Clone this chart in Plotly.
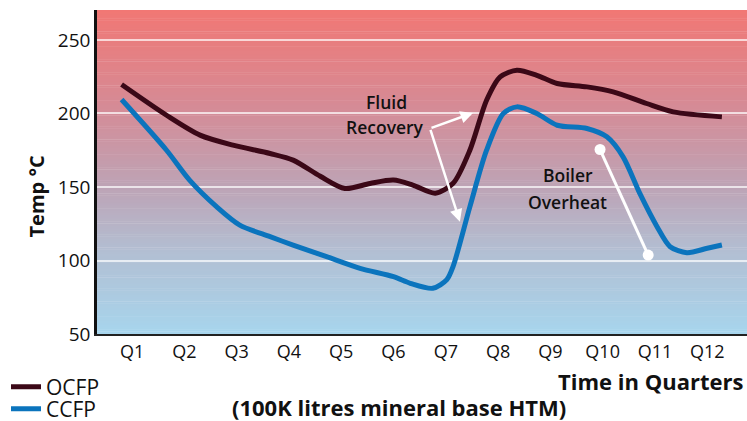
import plotly.graph_objects as go

# ---- data (x in quarters, Q1 = 1) ----
quarters = ["Q1", "Q2", "Q3", "Q4", "Q5", "Q6", "Q7", "Q8", "Q9", "Q10", "Q11", "Q12"]
quarter_pos = list(range(1, 13))

ocfp_q = [0.8, 1.66, 2.3, 2.93, 3.64, 4.08, 4.6, 5.07, 5.55, 6.0, 6.37, 6.8,
          7.14, 7.46, 7.78, 8.04, 8.36, 8.74, 9.13, 9.7, 10.2, 10.84, 11.35, 12.28]
ocfp_temp = [219.7, 198.8, 185.3, 178.5, 172.8, 168.3, 157.3, 149, 152.4, 154.7, 151.3, 145.8,
             152.5, 175, 209, 224.9, 229.4, 226, 220.4, 218.1, 214.7, 206.8, 201.1, 197.7]

ccfp_q = [0.8, 1.66, 2.1, 2.62, 3.06, 3.64, 4.08, 4.72, 5.36, 6.0, 6.32, 6.75,
          7.02, 7.14, 7.46, 7.78, 8.1, 8.36, 8.74, 9.13, 9.7, 10.08, 10.39, 10.71,
          11.04, 11.29, 11.61, 12.0, 12.28]
ccfp_temp = [209.5, 175, 154.7, 136.5, 124.1, 116.2, 110.5, 102.6, 94.7, 89, 84.5, 81.1,
             87, 96, 136.5, 175, 200, 204.5, 200, 192, 189.8, 184.1, 170.5, 145.6,
             123, 109.4, 105.3, 108.3, 110.5]

boiler_q = [9.95, 10.87]
boiler_temp = [175.5, 103.7]

y_range = [50, 270.4]
x_range = [0.33, 12.76]

# ---- background gradient (bottom -> top) ----
grad_stops = [(0.0, (167, 213, 237)), (0.25, (178, 191, 211)), (0.45, (189, 164, 182)),
              (0.7, (213, 139, 150)), (1.0, (241, 119, 116))]


def grad_color(t):
    for (t0, c0), (t1, c1) in zip(grad_stops[:-1], grad_stops[1:]):
        if t0 <= t <= t1:
            f = (t - t0) / (t1 - t0)
            c = [round(a + (b - a) * f) for a, b in zip(c0, c1)]
            return "rgb(%d,%d,%d)" % tuple(c)
    return "rgb(%d,%d,%d)" % grad_stops[-1][1]


shapes = []
n_bands = 150
for i in range(n_bands):
    y0 = y_range[0] + (y_range[1] - y_range[0]) * i / n_bands
    y1 = y_range[0] + (y_range[1] - y_range[0]) * (i + 1) / n_bands
    shapes.append(dict(type="rect", xref="paper", yref="y", x0=0, x1=1, y0=y0, y1=y1 + 0.3,
                       fillcolor=grad_color((i + 0.5) / n_bands), line=dict(width=0),
                       layer="below"))

FONT = "Open Sans"
W, H = 747, 421
L, T = 97, 10
PW, PH = W - L, 324
B = H - T - PH


def px_to_paper(px, py):
    return (px - L) / PW, (T + PH - py) / PH


fig = go.Figure()
fig.add_trace(go.Scatter(x=ocfp_q, y=ocfp_temp, name="OCFP", mode="lines", legend="legend",
                         line=dict(color="#3b0817", width=5, shape="spline", smoothing=0.8)))
fig.add_trace(go.Scatter(x=ccfp_q, y=ccfp_temp, name="CCFP", mode="lines", legend="legend2",
                         line=dict(color="#0b74bd", width=5, shape="spline", smoothing=0.8)))
fig.add_trace(go.Scatter(x=boiler_q, y=boiler_temp, mode="lines+markers", showlegend=False,
                         line=dict(color="white", width=3),
                         marker=dict(color="white", size=11), hoverinfo="skip"))

tx, ty = px_to_paper(20, 197)
qx, qy = px_to_paper(745, 381)
hx, hy = px_to_paper(399, 407)
l1x, l1y = px_to_paper(6, 387)
l2x, l2y = px_to_paper(6, 409)

LBL = dict(size=17.5, color="#111", weight=600)
annotations = [
    dict(text="<b>Temp °C</b>", xref="paper", yref="paper", x=tx, y=ty,
         showarrow=False, textangle=-90, font=dict(size=20, color="#111")),
    dict(text="<b>Time in Quarters</b>", xref="paper", yref="paper", x=qx, y=qy,
         xanchor="right", yanchor="middle", showarrow=False, font=dict(size=22, color="#111")),
    dict(text="<b>(100K litres mineral base HTM)</b>", xref="paper", yref="paper",
         x=hx, y=hy, xanchor="center", yanchor="middle",
         showarrow=False, font=dict(size=22, color="#111")),
    dict(text="Fluid", x=1 + (386 - 132) / 52.3, y=200 - (101.7 - 113.3) / 73.6 * 50,
         showarrow=False, font=LBL),
    dict(text="Recovery", x=1 + (384.5 - 132) / 52.3, y=200 - (126.7 - 113.3) / 73.6 * 50,
         showarrow=False, font=LBL),
    dict(text="Boiler", x=1 + (568 - 132) / 52.3, y=200 - (175 - 113.3) / 73.6 * 50,
         showarrow=False, font=LBL),
    dict(text="Overheat", x=1 + (568 - 132) / 52.3, y=200 - (201.7 - 113.3) / 73.6 * 50,
         showarrow=False, font=LBL),
    dict(text="", x=7.52, y=200.4, ax=6.698, ay=189.8, axref="x", ayref="y",
         showarrow=True, arrowcolor="white", arrowwidth=2.5, arrowhead=2, arrowsize=1),
    dict(text="", x=7.27, y=126.4, ax=6.698, ay=189.8, axref="x", ayref="y",
         showarrow=True, arrowcolor="white", arrowwidth=2.5, arrowhead=2, arrowsize=1),
]

legend_common = dict(xanchor="left", yanchor="middle", font=dict(size=21, color="#111"),
                     bgcolor="rgba(0,0,0,0)", itemwidth=30)

fig.update_layout(
    width=W, height=H,
    margin=dict(l=L, r=0, t=T, b=B, autoexpand=False),
    paper_bgcolor="white",
    plot_bgcolor="rgba(0,0,0,0)",
    font=dict(family=FONT, color="#111"),
    shapes=shapes,
    annotations=annotations,
    showlegend=True,
    legend=dict(x=l1x, y=l1y, **legend_common),
    legend2=dict(x=l2x, y=l2y, **legend_common),
    xaxis=dict(range=x_range, tickvals=quarter_pos, ticktext=quarters, showgrid=False,
               zeroline=False, showline=True, linecolor="#222", linewidth=2, ticks="",
               tickfont=dict(size=18, color="#111")),
    yaxis=dict(range=y_range, tickvals=[50, 100, 150, 200, 250], showgrid=True,
               gridcolor="rgba(255,255,255,0.7)", gridwidth=1.5, zeroline=False,
               showline=True, linecolor="#111", linewidth=2.5, ticks="",
               tickfont=dict(size=19, color="#111")),
)

fig.write_html(
    "out.html",
    config={"displayModeBar": False},
    post_script="document.body.style.margin='0px';"
                "document.documentElement.style.overflow='hidden';",
)
